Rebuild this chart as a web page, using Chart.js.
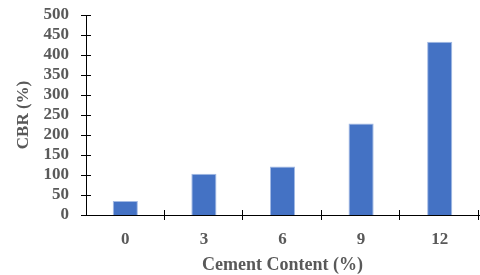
<!DOCTYPE html>
<html>
<head>
<meta charset="utf-8">
<script src="https://cdn.jsdelivr.net/npm/chart.js@4/dist/chart.umd.min.js"></script>
<style>
  html, body { margin: 0; padding: 0; background: #fff; }
  #wrap { width: 480px; height: 275px; }
</style>
</head>
<body>
<div id="wrap"><canvas id="cbrChart"></canvas></div>
<script>
var categories = ['0', '3', '6', '9', '12'];
var cbrValues = [35, 103, 121, 229, 433];
var yTicks = [0, 50, 100, 150, 200, 250, 300, 350, 400, 450, 500];

var textGrey = '#595959';
var serif = "'Liberation Serif', 'Times New Roman', serif";

// Excel style tick marks that cross the axis line
var crossTicks = {
    id: 'crossTicks',
    afterDraw: function (chart) {
        var ctx = chart.ctx;
        var x = chart.scales.x;
        var y = chart.scales.y;
        var len = 5;
        ctx.save();
        ctx.strokeStyle = '#000';
        ctx.lineWidth = 1;
        ctx.beginPath();
        yTicks.forEach(function (v) {
            var py = Math.round(y.getPixelForValue(v)) + 0.5;
            ctx.moveTo(x.left - len, py);
            ctx.lineTo(x.left + len, py);
        });
        for (var i = 0; i < categories.length; i++) {
            var px = i < categories.length - 1
                ? (x.getPixelForValue(i) + x.getPixelForValue(i + 1)) / 2
                : x.right;
            px = Math.round(px) - 0.5;
            ctx.moveTo(px, y.bottom - len);
            ctx.lineTo(px, y.bottom + len);
        }
        ctx.stroke();
        ctx.restore();
    }
};

new Chart(document.getElementById('cbrChart').getContext('2d'), {
    type: 'bar',
    data: {
        labels: categories,
        datasets: [
            {
                data: cbrValues,
                backgroundColor: '#4472C4',
                borderColor: '#A3BAE4',
                borderWidth: 1,
                categoryPercentage: 1,
                barPercentage: 0.32
            }
        ]
    },
    plugins: [crossTicks],
    options: {
        responsive: true,
        maintainAspectRatio: false,
        animation: false,
        layout: {
            padding: { left: 13, right: 1, top: 15, bottom: -1 }
        },
        plugins: {
            legend: { display: false },
            tooltip: { enabled: false }
        },
        scales: {
            x: {
                grid: { display: false },
                border: { display: true, color: '#000', width: 1 },
                ticks: {
                    color: textGrey,
                    padding: 6,
                    autoSkip: false,
                    font: { family: serif, size: 17, weight: 'bold' }
                },
                title: {
                    display: true,
                    text: 'Cement Content (%)',
                    color: textGrey,
                    padding: { top: 4, bottom: 0 },
                    font: { family: serif, size: 18, weight: 'bold' }
                },
                afterFit: function (scale) { scale.height = 61; }
            },
            y: {
                min: 0,
                max: 500,
                afterBuildTicks: function (scale) {
                    scale.ticks = yTicks.map(function (v) { return { value: v }; });
                },
                grid: { display: false },
                border: { display: true, color: '#000', width: 1 },
                ticks: {
                    color: textGrey,
                    padding: 9,
                    autoSkip: false,
                    font: { family: serif, size: 17, weight: 'bold' }
                },
                title: {
                    display: true,
                    text: 'CBR (%)',
                    color: textGrey,
                    padding: { top: 0, bottom: 4 },
                    font: { family: serif, size: 17, weight: 'bold' }
                },
                afterFit: function (scale) {
                    scale.width = 73;
                    scale.paddingTop = 0;
                }
            }
        }
    }
});
</script>
</body>
</html>
